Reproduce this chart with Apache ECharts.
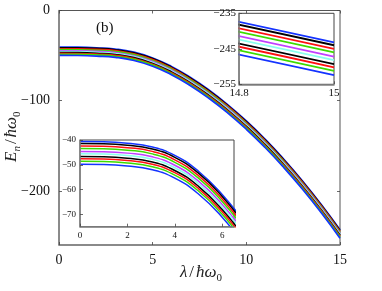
<!DOCTYPE html>
<html>
<head>
<meta charset="utf-8">
<script src="https://cdn.jsdelivr.net/npm/echarts@6/dist/echarts.min.js"></script>
<style>html,body{margin:0;padding:0;background:#fff}#c{width:382px;height:291px}</style>
</head>
<body>
<div id="c"></div>
<script>
// ---- data ----
const lambda = [0, 1, 2, 3, 4, 5, 6, 7, 8, 9, 10, 11, 12, 13, 14, 15];
const E1  = [-40.6, -40.7, -41.3, -42.7, -46.2, -52.6, -62.0, -74.0, -88.1, -104.3, -122.5, -142.7, -164.9, -189.0, -215.1, -243.2];
const E2  = [-41.4, -41.5, -42.1, -43.5, -47.0, -53.4, -62.8, -74.8, -88.9, -105.1, -123.3, -143.5, -165.7, -189.8, -215.9, -244.0];
const E3  = [-42.4, -42.5, -43.1, -44.5, -48.0, -54.4, -63.8, -75.8, -89.9, -106.1, -124.3, -144.5, -166.7, -190.8, -216.9, -245.0];
const E4  = [-43.4, -43.5, -44.1, -45.5, -49.0, -55.4, -64.8, -76.8, -90.9, -107.1, -125.3, -145.5, -167.7, -191.8, -217.9, -246.0];
const E5  = [-44.6, -44.7, -45.3, -46.7, -50.2, -56.6, -66.0, -78.0, -92.1, -108.3, -126.5, -146.7, -168.9, -193.0, -219.1, -247.2];
const E6  = [-45.6, -45.7, -46.3, -47.7, -51.2, -57.6, -67.0, -79.0, -93.1, -109.3, -127.5, -147.7, -169.9, -194.0, -220.1, -248.2];
const E7  = [-46.7, -46.8, -47.4, -48.8, -52.3, -58.7, -68.1, -80.1, -94.2, -110.4, -128.6, -148.8, -171.0, -195.1, -221.2, -249.3];
const E8  = [-47.6, -47.7, -48.3, -49.7, -53.2, -59.6, -69.0, -81.0, -95.1, -111.3, -129.5, -149.7, -171.9, -196.0, -222.1, -250.2];
const E9  = [-48.6, -48.7, -49.3, -50.7, -54.2, -60.6, -70.0, -82.0, -96.1, -112.3, -130.5, -150.7, -172.9, -197.0, -223.1, -251.2];
const E10 = [-49.8, -49.9, -50.5, -51.9, -55.4, -61.8, -71.2, -83.2, -97.3, -113.5, -131.7, -151.9, -174.1, -198.2, -224.3, -252.4];
const curves = [E1, E2, E3, E4, E5, E6, E7, E8, E9, E10];

const mainXTicks = [0, 5, 10, 15];
const mainYTicks = [0, -100, -200];
const in1XTicks = [14.8, 15];
const in1YTicks = [-255, -245, -235];
const in2XTicks = [0, 2, 4, 6];
const in2YTicks = [-70, -60, -50, -40];

// ---- style ----
const colors = ['#1433ff', '#000000', '#ff1010', '#3ddc00', '#c040ff', '#88ffee', '#000000', '#ff1010', '#3ddc00', '#1433ff'];
const SERIF = '"Liberation Serif","DejaVu Serif",serif';
const AX = '#808080';
const fmt = v => String(v).replace('-', '\u2212');

const chart = echarts.init(document.getElementById('c'), null, {renderer: 'canvas'});

function xAx(grid, min, max, ticks, fs, margin, z, top) {
  return {
    type: 'value', gridIndex: grid, min: min, max: max, position: top ? 'top' : 'bottom', z: z,
    axisLine: {show: !top, onZero: false, lineStyle: {color: AX, width: 1.5}},
    axisTick: {show: true, inside: true, length: 3, customValues: ticks, lineStyle: {color: '#444', width: 0.8}},
    axisLabel: {show: !top, customValues: ticks, formatter: fmt, fontFamily: SERIF, fontSize: fs, color: '#111', margin: margin, showMinLabel: true, showMaxLabel: true},
    splitLine: {show: false}
  };
}
function yAx(grid, min, max, ticks, fs, margin, z, right) {
  return {
    type: 'value', gridIndex: grid, min: min, max: max, position: right ? 'right' : 'left', z: z,
    axisLine: {show: !right, onZero: false, lineStyle: {color: AX, width: 1.5}},
    axisTick: {show: true, inside: true, length: 3, customValues: ticks, lineStyle: {color: '#444', width: 0.8}},
    axisLabel: {show: !right, customValues: ticks, formatter: fmt, fontFamily: SERIF, fontSize: fs, color: '#111', margin: margin, showMinLabel: true, showMaxLabel: true},
    splitLine: {show: false}
  };
}

const grids = [
  {left: 59, top: 10.5, width: 281, height: 234.5, show: true, borderColor: '#555', borderWidth: 1, backgroundColor: '#fff', z: 0},
  {left: 239, top: 13.3, width: 95, height: 71, show: true, borderColor: '#444', borderWidth: 1, backgroundColor: '#fff', z: 5},
  {left: 80, top: 140, width: 154, height: 86.7, show: true, borderColor: '#444', borderWidth: 1, backgroundColor: '#fff', z: 5}
];

const xAxes = [
  xAx(0, 0, 15, mainXTicks, 14, 8, 3, false),
  xAx(0, 0, 15, mainXTicks, 14, 8, 3, true),
  xAx(1, 14.8, 15, in1XTicks, 11, 3, 8, false),
  xAx(2, 0, 6.5, in2XTicks, 9, 4, 8, false)
];
const yAxes = [
  yAx(0, -260, 0, mainYTicks, 14, 9, 3, false),
  yAx(0, -260, 0, mainYTicks, 14, 9, 3, true),
  yAx(1, -255, -235, in1YTicks, 11, 3, 8, false),
  yAx(2, -75, -40, in2YTicks, 9, 4, 8, false)
];

const series = [];
const panels = [
  {x: 0, y: 0, w: 1.7, z: 2},
  {x: 2, y: 2, w: 1.8, z: 7},
  {x: 3, y: 3, w: 1.5, z: 7}
];
panels.forEach(p => {
  curves.forEach((E, k) => {
    series.push({
      type: 'line', xAxisIndex: p.x, yAxisIndex: p.y, z: p.z,
      data: lambda.map((l, i) => [l, E[i]]),
      showSymbol: false, smooth: 0.5, clip: true, silent: true,
      lineStyle: {color: colors[k], width: p.w},
      animation: false
    });
  });
});

const subStyle = {fontFamily: SERIF, fontSize: 11, lineHeight: 22, verticalAlign: 'bottom'};
chart.setOption({
  animation: false,
  backgroundColor: '#fff',
  grid: grids,
  xAxis: xAxes,
  yAxis: yAxes,
  series: series,
  graphic: [
    {type: 'text', left: 96, top: 21, z: 20, style: {text: '(b)', font: '15px ' + SERIF, fill: '#111'}},
    {type: 'text', x: 1, y: 162, rotation: Math.PI / 2, z: 20, style: {
      text: '{i|E}{s|n}{r|/}{i|\u0127\u03c9}{u|0}', fill: '#222',
      rich: {
        i: {fontFamily: SERIF, fontStyle: 'italic', fontSize: 17, lineHeight: 22},
        r: {fontFamily: SERIF, fontSize: 17, lineHeight: 22, padding: [0, 2, 0, 2]},
        s: Object.assign({fontStyle: 'italic'}, subStyle),
        u: subStyle
      }}},
    {type: 'text', x: 180, y: 262, z: 20, style: {
      text: '{i|\u03bb}{r|/}{i|\u0127\u03c9}{u|0}', fill: '#222',
      rich: {
        i: {fontFamily: SERIF, fontStyle: 'italic', fontSize: 17, lineHeight: 22},
        r: {fontFamily: SERIF, fontSize: 17, lineHeight: 22, padding: [0, 2, 0, 2]},
        u: subStyle
      }}}
  ]
});
</script>
</body>
</html>
